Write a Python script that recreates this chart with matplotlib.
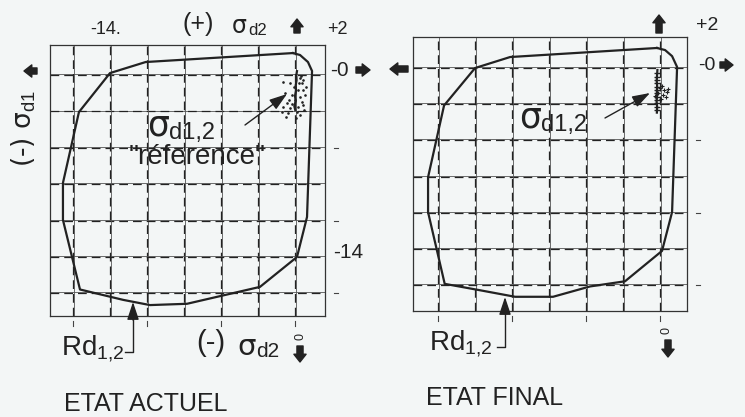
import matplotlib.pyplot as plt
from matplotlib.patches import FancyArrowPatch
from matplotlib.lines import Line2D

plt.rcParams['font.family'] = ['Liberation Sans', 'DejaVu Sans']
plt.rcParams['mathtext.fontset'] = 'custom'
plt.rcParams['mathtext.rm'] = 'Liberation Sans'
plt.rcParams['mathtext.it'] = 'Liberation Sans'

# grid levels (MPa) shared by both panels
grid_levels = [0.0, -2.8, -5.6, -8.4, -11.2, -14.0, -16.8]
bottom_ticks = [-16.8, -11.2, -5.6, 0.0]
right_ticks = [-5.6, -11.2, -16.8]

# resistance envelope Rd1,2 - etat actuel
env1_x = [-0.15, 0.38, 0.98, 1.29, 0.91, 0.15, -2.65, -8.17, -10.97, -13.0, -16.27, -17.56, -17.56, -16.35, -14.0, -11.3]
env1_y = [1.69, 1.54, 1.0, 0.31, -10.92, -14.0, -16.3, -17.6, -17.7, -17.3, -16.5, -11.15, -8.3, -2.85, 0.15, 1.0]

# resistance envelope Rd1,2 - etat final
env2_x = [-0.23, 0.38, 0.91, 1.29, 0.91, 0.15, -2.65, -5.3, -8.1, -10.97, -13.6, -16.3, -17.56, -17.56, -16.35, -14.0, -11.35]
env2_y = [1.55, 1.39, 0.92, 0.08, -11.15, -14.15, -16.5, -16.9, -17.7, -17.7, -17.2, -16.7, -11.15, -8.45, -2.9, 0.0, 0.85]

# stress points sigma d1,2 "reference" (etat actuel)
core1_x = [0.15, 0.1, 0.12, 0.05, 0.08, 0.0, 0.05, -0.05, 0.02]
core1_y = [0.3, 0.0, -0.4, -0.8, -1.2, -1.6, -2.0, -2.4, -2.7]
pts1_x = [-0.91, -0.38, 0.38, 0.53, 0.61, 0.23, 0.61, -0.76, -0.23, 0.38, 0.76, -0.61, 0.0, 0.53,
          -0.91, -0.38, 0.23, 0.61, -0.98, -0.53, 0.15, 0.38, -0.1, 0.45, -0.45, 0.8, -0.7, 0.1, 0.7, -0.2, 0.3]
pts1_y = [-0.54, -0.62, -0.23, -0.62, -0.38, -1.15, -1.15, -1.38, -1.54, -1.69, -1.54, -2.15, -1.92, -2.08,
          -2.46, -2.54, -2.46, -2.31, -2.85, -2.92, -2.85, -3.08, -0.9, -0.05, -1.9, -0.9, -3.2, -3.3, -2.7, -2.2, -0.6]

# stress points sigma d1,2 (etat final)
core2_x = [-0.2, -0.23, -0.25, -0.22, -0.24, -0.23, -0.26, -0.22, -0.24]
core2_y = [-0.15, -0.6, -1.0, -1.4, -1.8, -2.2, -2.6, -3.0, -3.45]
branch2_x = [-0.23, -0.25, -0.21, -0.24, -0.2, -0.26, -0.22, -0.24, -0.25, -0.22, -0.24, -0.23]
branch2_y = [-0.39, -0.7, -0.93, -1.16, -1.47, -1.7, -1.93, -2.24, -2.47, -2.7, -3.0, -3.25]
blob2_x = [0.0, 0.3, 0.53, 0.23, -0.15, 0.45, 0.08, -0.38, 0.61, 0.15]
blob2_y = [-1.55, -1.7, -1.86, -2.09, -1.93, -2.24, -2.4, -2.16, -1.62, -1.39]

W, H = 745, 417
ink = '#222222'
bg = '#f3f6f6'
SIG = ['DejaVu Sans']

fig = plt.figure(figsize=(W / 100, H / 100), dpi=100, facecolor=bg)


def fp(x, y):
    return (x / W, 1 - y / H)


def txt(x, y, s, **kw):
    kw.setdefault('color', ink)
    kw.setdefault('va', 'center')
    fig.text(*fp(x, y), s, **kw)


def sigma(x, y, sub, size, subsize, subx, suby):
    # big sigma followed by its subscript, both on their own baseline
    txt(x, y, 'σ', fontsize=size, ha='left', va='baseline', family=SIG)
    txt(subx, suby, sub, fontsize=subsize, ha='left', va='baseline')


def block_arrow(x0, y0, x1, y1):
    fig.add_artist(FancyArrowPatch(fp(x0, y0), fp(x1, y1), transform=fig.transFigure,
                                   arrowstyle='simple,head_length=0.7,head_width=1.1,tail_width=0.55',
                                   mutation_scale=8, color=ink, shrinkA=0, shrinkB=0))


def thin_arrow(x0, y0, x1, y1):
    fig.add_artist(FancyArrowPatch(fp(x0, y0), fp(x1, y1), transform=fig.transFigure,
                                   arrowstyle='-|>,head_length=0.9,head_width=0.3',
                                   mutation_scale=12, color=ink, lw=1.0, shrinkA=0, shrinkB=0))


def fline(xs, ys, lw=1.0):
    pts = [fp(x, y) for x, y in zip(xs, ys)]
    fig.add_artist(Line2D([p[0] for p in pts], [p[1] for p in pts], transform=fig.transFigure,
                          color=ink, lw=lw))


def panel(rect, xlim, ylim, env_x, env_y):
    ax = fig.add_axes(rect)
    ax.set_facecolor(bg)
    ax.set_xlim(*xlim)
    ax.set_ylim(*ylim)
    ax.set_xticks([])
    ax.set_yticks([])
    for s in ax.spines.values():
        s.set_linewidth(0.9)
        s.set_color('#333333')
    for g in grid_levels:
        ax.axvline(g + 0.07, color='#555555', lw=0.6)
        ax.axhline(g + 0.07, color='#555555', lw=0.6)
        ax.axvline(g, color=ink, lw=0.9, ls=(0, (7, 4)))
        ax.axhline(g, color=ink, lw=0.9, ls=(0, (7, 4)))
    ax.plot(env_x + [env_x[0]], env_y + [env_y[0]], color=ink, lw=1.6, clip_on=False, zorder=5)
    # outer tick marks
    for t in bottom_ticks:
        ax.plot([t, t], [ylim[0] - 0.35, ylim[0] - 0.75], color='#444444', lw=0.8, clip_on=False)
    for t in right_ticks:
        ax.plot([xlim[1] + 0.65, xlim[1] + 1.0], [t, t], color='#444444', lw=0.8, clip_on=False)
    return ax


# ---- left panel : etat actuel ----
ax1 = panel([50 / W, 1 - 316 / H, 275 / W, 271 / H], (-18.54, 2.27), (-18.54, 2.31), env1_x, env1_y)
ax1.plot(core1_x, core1_y, color=ink, lw=1.6, zorder=6)
ax1.scatter(pts1_x, pts1_y, s=0.8, color=ink, zorder=6)

txt(106, 30, '-14.', fontsize=13, ha='center')
txt(198, 24, '(+)', fontsize=18, ha='center')
sigma(232, 33, 'd2', 17, 12, 248, 35)
block_arrow(297, 33, 297, 19)
txt(337, 30, '+2', fontsize=13, ha='center')
txt(339, 70, '-0', fontsize=15, ha='center')
block_arrow(356, 70, 370, 70)
txt(348, 253, '-14', fontsize=15, ha='center')
txt(24, 128, '(-) σ$_{\\rm d1}$', fontsize=19, ha='center', rotation=90, family=SIG)
block_arrow(37, 71, 24, 71)

sigma(147, 136, 'd1,2', 25, 17, 169, 139)
txt(197, 157, '"réference"', fontsize=20, ha='center')
thin_arrow(245, 125, 287, 94)

txt(300, 336, '0', fontsize=9, ha='center', rotation=90)
block_arrow(300, 346, 300, 362)
txt(211, 343, '(-)', fontsize=21, ha='center')
sigma(237, 355, 'd2', 21, 15, 256, 357)

txt(61, 355, 'Rd$_{1{,}2}$', fontsize=20, ha='left', va='baseline')
fline([125, 133, 133], [352, 352, 318])
thin_arrow(133, 320, 133, 302)

txt(64, 404, 'ETAT ACTUEL', fontsize=18, ha='left')

# ---- right panel : etat final ----
ax2 = panel([413 / W, 1 - 311 / H, 274 / W, 274 / H], (-18.7, 2.04), (-18.8, 2.4), env2_x, env2_y)
ax2.plot(core2_x, core2_y, color=ink, lw=1.6, zorder=6)
ax2.scatter(branch2_x, branch2_y, marker='_', s=22, lw=1.0, color=ink, zorder=6)
ax2.scatter(blob2_x, blob2_y, marker='+', s=10, lw=0.8, color=ink, zorder=6)

block_arrow(659, 33, 659, 15)
txt(707, 25, '+2', fontsize=14, ha='center')
txt(707, 65, '-0', fontsize=14, ha='center')
block_arrow(720, 65, 733, 65)
block_arrow(408, 69, 390, 69)

sigma(519, 128, 'd1,2', 25, 17, 541, 131)
thin_arrow(605, 118, 650, 93)

txt(666, 331, '0', fontsize=9, ha='center', rotation=90)
block_arrow(668, 340, 668, 357)

txt(429, 350, 'Rd$_{1{,}2}$', fontsize=20, ha='left', va='baseline')
fline([497, 505, 505], [347, 347, 312])
thin_arrow(505, 314, 505, 297)

txt(426, 398, 'ETAT FINAL', fontsize=18, ha='left')

fig.savefig('out.png', dpi=100, facecolor=bg)
